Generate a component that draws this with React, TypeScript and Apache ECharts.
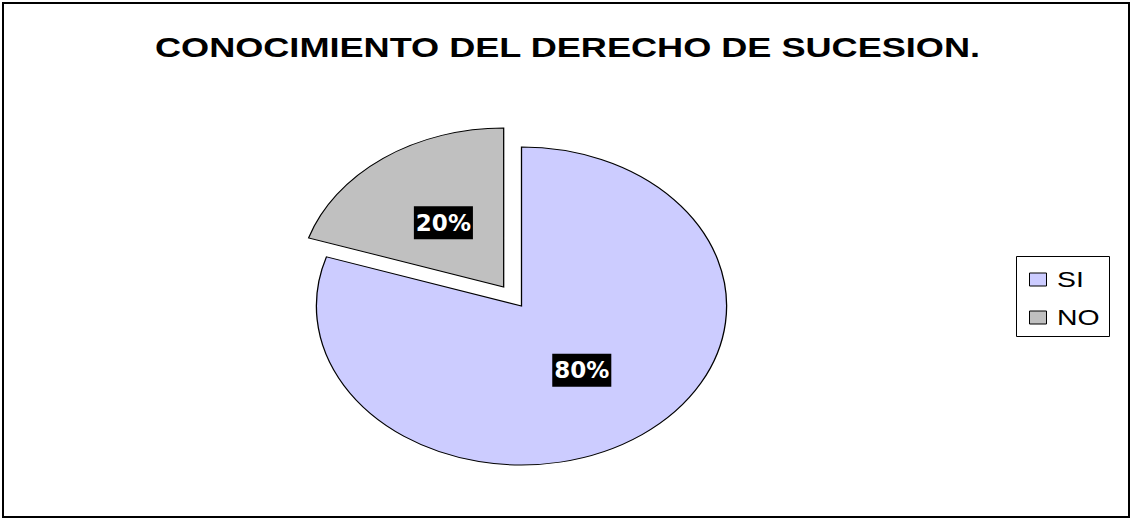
import React, { useEffect, useRef } from "react";
import * as echarts from "echarts";

const TITLE = "CONOCIMIENTO DEL DERECHO DE SUCESION.";
const categories = ["SI", "NO"];
const values = [80, 20];
const EXPLODED_CATEGORY = "NO";

const SLICE_COLORS = ["#CCCCFF", "#C0C0C0"];
const STRETCH = 1.29; // horizontal stretch of the original picture
const CX = 521.5;
const CY = 306;
const R = 159;
const EXPLODE = 23.5;

export default function App() {
  const ref = useRef<HTMLDivElement>(null);

  useEffect(() => {
    if (!ref.current) return;
    const chart = echarts.init(ref.current, undefined, { renderer: "svg" });
    const total = values.reduce((a, b) => a + b, 0);

    const legendGraphics: any[] = [
      {
        type: "rect",
        shape: { x: 1016.5, y: 256.5, width: 93, height: 80 },
        style: { fill: "#fff", stroke: "#000", lineWidth: 1 },
      },
    ];
    categories.forEach((c, i) => {
      const rowY = 279.5 + i * 38;
      legendGraphics.push({
        type: "rect",
        shape: { x: 1029.5, y: rowY - 6.5, width: 17, height: 13 },
        style: { fill: SLICE_COLORS[i], stroke: "#000", lineWidth: 1 },
      });
      legendGraphics.push({
        type: "text",
        x: 1057,
        y: rowY,
        scaleX: STRETCH,
        style: {
          text: c,
          fill: "#000",
          font: '22px "Liberation Sans", Arial, sans-serif',
          align: "left",
          verticalAlign: "middle",
        },
      });
    });

    chart.setOption({
      animation: false,
      backgroundColor: "#fff",
      graphic: [
        {
          type: "rect",
          shape: { x: 3, y: 3, width: 1126, height: 514 },
          style: { fill: "none", stroke: "#000", lineWidth: 2 },
        },
        {
          type: "rect",
          shape: { x: 2, y: 3, width: 2, height: 514 },
          style: { fill: "#000" },
        },
        {
          type: "rect",
          shape: { x: 1128, y: 3, width: 2, height: 514 },
          style: { fill: "#000" },
        },
        {
          type: "text",
          x: 567.5,
          y: 47,
          scaleX: STRETCH,
          style: {
            text: TITLE,
            fill: "#000",
            font: 'bold 28px "Liberation Sans", Arial, sans-serif',
            align: "center",
            verticalAlign: "middle",
          },
        },
        ...legendGraphics,
      ],
      series: [
        {
          type: "custom",
          coordinateSystem: "none",
          data: values.map((v, i) => ({ name: categories[i], value: [v, i] })),
          renderItem: (params: any) => {
            const i = params.dataIndex;
            const before = values.slice(0, i).reduce((a, b) => a + b, 0);
            const start = -Math.PI / 2 + (before / total) * Math.PI * 2;
            const end = start + (values[i] / total) * Math.PI * 2;
            const mid = (start + end) / 2;
            const ex = categories[i] === EXPLODED_CATEGORY ? EXPLODE : 0;
            const ox = CX + Math.cos(mid) * ex * STRETCH;
            const oy = CY + Math.sin(mid) * ex;
            const pct = Math.round((values[i] / total) * 100) + "%";
            return {
              type: "group",
              children: [
                {
                  type: "sector",
                  x: ox,
                  y: oy,
                  scaleX: STRETCH,
                  shape: {
                    cx: 0,
                    cy: 0,
                    r0: 0,
                    r: R,
                    startAngle: start,
                    endAngle: end,
                    clockwise: true,
                  },
                  style: { fill: SLICE_COLORS[i], stroke: "#000", lineWidth: 1 },
                },
                {
                  type: "text",
                  x: ox + Math.cos(mid) * R * 0.5 * STRETCH,
                  y: oy + Math.sin(mid) * R * 0.5,
                  style: {
                    text: pct,
                    fill: "#fff",
                    font: 'bold 23px "DejaVu Sans", Verdana, sans-serif',
                    align: "center",
                    verticalAlign: "middle",
                    backgroundColor: "#000",
                    padding: [5, 2, 4, 2],
                    lineHeight: 24,
                  },
                },
              ],
            };
          },
        },
      ],
    });

    return () => chart.dispose();
  }, []);

  return (
    <div
      ref={ref}
      style={{ position: "fixed", left: 0, top: 0, width: 1132, height: 519 }}
    />
  );
}
